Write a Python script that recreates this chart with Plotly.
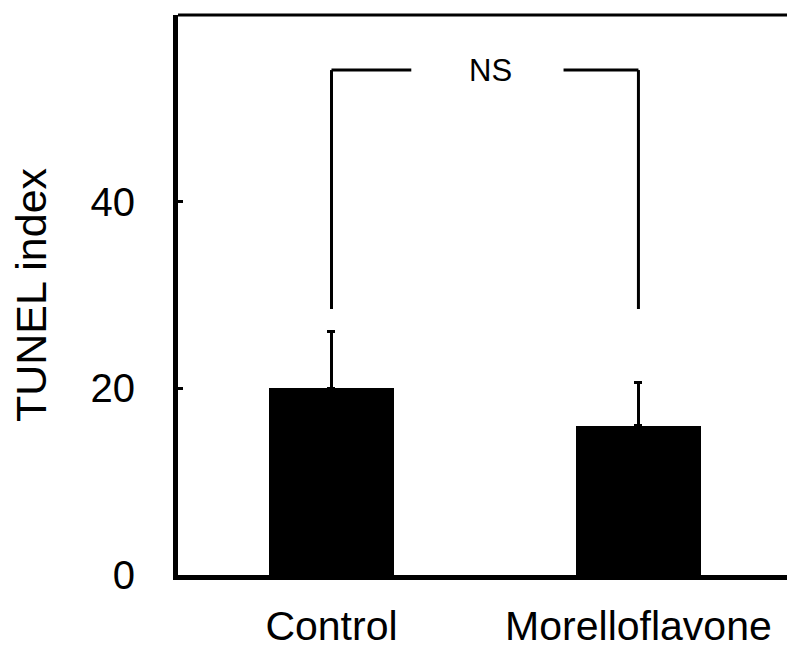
import plotly.graph_objects as go

# TUNEL index per group (mean and upper SD)
groups = ["Control", "Morelloflavone"]
tunel_mean = [20.0, 16.0]
tunel_sd = [6.1, 4.6]

# significance bracket between the two groups
bracket_low = [28.5, 28.5]
bracket_top = 54.1
bracket_label = "NS"

y_ticks = [0, 20, 40]
FONT = "Liberation Sans, Arial, sans-serif"

fig = go.Figure()
fig.add_trace(go.Bar(
    x=groups, y=tunel_mean, width=0.405,
    marker=dict(color="black", line=dict(width=0)),
    error_y=dict(type="data", array=tunel_sd, arrayminus=[0, 0],
                 symmetric=False, color="black", thickness=3, width=4),
    showlegend=False,
))

# bracket: two verticals and a top line broken by the label
line = dict(color="black", width=3)
for i, g in enumerate(groups):
    fig.add_shape(type="line", x0=i, x1=i, y0=bracket_low[i], y1=bracket_top,
                  xref="x", yref="y", line=line)
fig.add_shape(type="line", x0=0, x1=0.26, y0=bracket_top, y1=bracket_top,
              xref="x", yref="y", line=line)
fig.add_shape(type="line", x0=0.756, x1=1.0, y0=bracket_top, y1=bracket_top,
              xref="x", yref="y", line=line)
fig.add_annotation(x=0.519, y=bracket_top, xref="x", yref="y", text=bracket_label,
                   showarrow=False, font=dict(family=FONT, size=31, color="black"))

# top frame line
fig.add_shape(type="line", x0=0, x1=1, y0=1, y1=1, xref="paper", yref="paper",
              line=dict(color="black", width=3))

fig.update_layout(
    width=787, height=653,
    margin=dict(l=178, r=0, t=15, b=78),
    paper_bgcolor="white", plot_bgcolor="white",
    font=dict(family=FONT, color="black"),
    bargap=0,
)
fig.update_xaxes(
    range=[-0.5, 1.484], showgrid=False, zeroline=False, automargin=False,
    showline=True, linecolor="black", linewidth=5,
    ticks="", tickfont=dict(size=41), ticklabelstandoff=11,
)
fig.update_yaxes(
    range=[0, 60], tickvals=y_ticks, showgrid=False, zeroline=False,
    automargin=False,
    showline=True, linecolor="black", linewidth=5,
    ticks="inside", ticklen=5, tickwidth=3, tickcolor="black",
    tickfont=dict(size=40), ticklabelstandoff=30,
    title=dict(text="TUNEL index", font=dict(size=43), standoff=32),
)

fig.write_html("out.html")
